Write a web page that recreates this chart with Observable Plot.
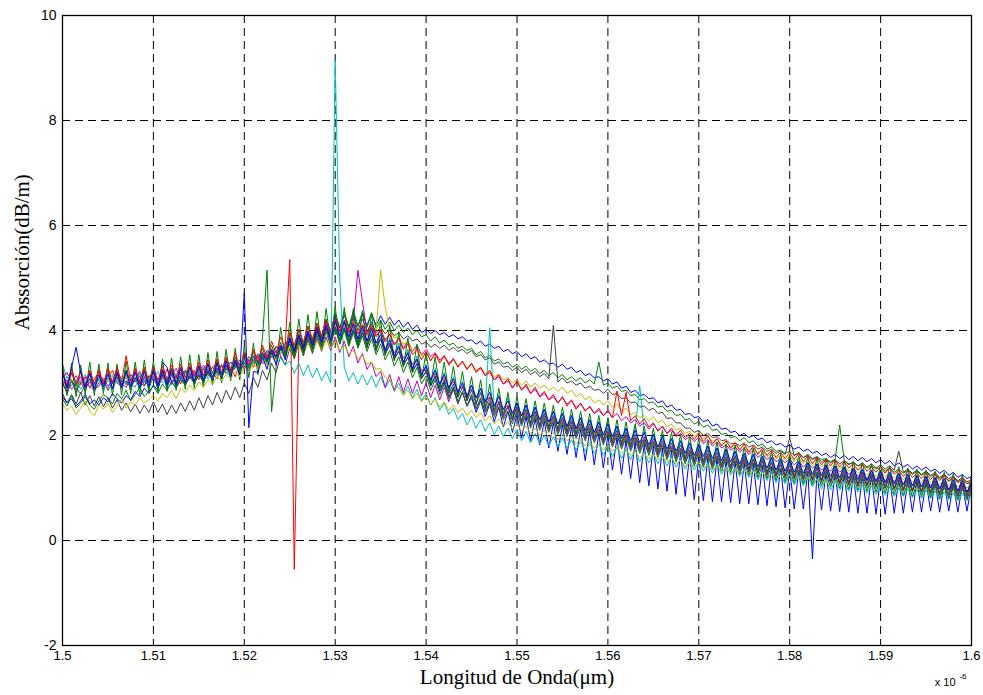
<!DOCTYPE html>
<html>
<head>
<meta charset="utf-8">
<script src="https://cdn.jsdelivr.net/npm/d3@7"></script>
<script src="https://cdn.jsdelivr.net/npm/@observablehq/plot@0.6"></script>
<style>
  html, body { margin: 0; padding: 0; background: #fff; }
  #chart { width: 983px; height: 695px; }
</style>
</head>
<body>
<div id="chart"></div>
<script>
// Sampling grid of the wavelength axis (µm, plotted as 1.5 … 1.6 with the "x 10-6" multiplier)
const wavelength = d3.range(201).map(i => +(1.5 + i * 0.0005).toFixed(4));

const xTicks = [1.5, 1.51, 1.52, 1.53, 1.54, 1.55, 1.56, 1.57, 1.58, 1.59, 1.6];
const xTickLabels = ["1.5", "1.51", "1.52", "1.53", "1.54", "1.55", "1.56", "1.57", "1.58", "1.59", "1.6"];
const yTicks = [-2, 0, 2, 4, 6, 8, 10];
const yTickLabels = ["-2", "0", "2", "4", "6", "8", "10"];

// Absorption (dB/m), one array per trace
const b1 = [3.02,2.80,3.05,2.82,3.04,2.85,3.08,2.86,3.10,2.88, 3.12,2.88,3.10,2.90,3.14,2.87,3.11,2.89,3.12,2.90, 3.13,2.90,3.15,2.92,3.16,2.95,3.18,2.96,3.20,2.98, 3.22,3.00,3.26,3.04,3.30,3.08,3.33,3.12,3.38,3.16, 3.42,3.22,3.50,3.28,3.56,3.36,3.64,3.42,3.72,3.50, 3.84,3.60,3.90,3.70,3.98,3.78,4.06,3.86,4.14,3.95, 4.28,4.05,4.30,4.06,4.32,4.08,4.30,4.10,4.32,4.10, 4.28,4.12,4.25,4.10,4.20,4.06,4.16,4.02,4.10,3.96, 4.02,3.94,4.00,3.92,3.96,3.88,3.92,3.84,3.88,3.80, 3.82,3.74,3.80,3.70,3.74,3.66,3.70,3.60,3.64,3.56, 3.60,3.50,3.56,3.46,3.50,3.40,3.44,3.36,3.38,3.30, 3.36,3.26,3.30,3.20,3.24,3.14,3.18,3.10,3.12,3.04, 3.08,2.98,3.02,2.90,2.94,2.82,2.86,2.76,2.78,2.70, 2.72,2.62,2.66,2.54,2.58,2.48,2.50,2.40,2.42,2.34, 2.36,2.26,2.30,2.18,2.22,2.12,2.14,2.06,2.08,2.00, 2.04,1.96,2.00,1.92,1.95,1.86,1.90,1.82,1.85,1.78, 1.82,1.74,1.78,1.70,1.74,1.66,1.70,1.62,1.66,1.58, 1.64,1.56,1.62,1.54,1.60,1.52,1.58,1.50,1.56,1.48, 1.54,1.46,1.52,1.42,1.48,1.40,1.45,1.36,1.42,1.34, 1.40,1.32,1.36,1.28,1.34,1.24,1.30,1.20,1.26,1.18, 1.22];
const g1 = [3.18,2.92,3.20,2.94,3.22,2.95,3.20,2.96,3.24,2.98, 3.24,2.98,3.26,2.96,3.25,2.98,3.27,2.98,3.26,3.00, 3.25,2.98,3.26,3.00,3.28,3.00,3.30,3.02,3.32,3.04, 3.34,3.08,3.38,3.10,3.42,3.14,3.46,3.18,3.50,3.22, 3.55,3.28,3.60,3.34,3.66,3.40,3.72,3.46,3.78,3.52, 3.96,3.66,4.02,3.74,4.08,3.82,4.14,3.88,4.22,3.94, 4.34,4.04,4.36,4.06,4.38,4.08,4.36,4.06,4.34,4.04, 4.20,4.02,4.16,4.00,4.10,3.96,4.05,3.92,4.00,3.88, 3.92,3.80,3.88,3.76,3.82,3.72,3.76,3.66,3.70,3.62, 3.66,3.54,3.60,3.48,3.52,3.42,3.46,3.36,3.40,3.30, 3.36,3.26,3.32,3.22,3.28,3.18,3.24,3.14,3.20,3.10, 3.16,3.06,3.12,3.04,3.10,3.00,3.06,2.98,3.40,2.96, 3.00,2.90,2.94,2.84,2.86,2.76,2.78,2.68,2.70,2.62, 2.64,2.54,2.56,2.46,2.48,2.38,2.40,2.30,2.32,2.22, 2.26,2.16,2.20,2.10,2.12,2.02,2.04,1.96,1.98,1.90, 1.96,1.86,1.90,1.80,1.84,1.74,1.78,1.70,1.72,1.66, 1.70,1.62,1.68,1.58,1.64,1.56,1.60,1.54,1.56,1.50, 1.55,2.20,1.52,1.46,1.48,1.42,1.45,1.38,1.42,1.36, 1.40,1.32,1.38,1.30,1.36,1.28,1.34,1.26,1.32,1.24, 1.30,1.22,1.26,1.18,1.24,1.14,1.20,1.12,1.16,1.08, 1.12];
const r1 = [3.05,2.95,3.18,3.02,2.96,3.12,2.90,3.08,3.20,2.98, 3.10,3.24,3.00,2.94,3.16,3.06,3.22,2.98,3.12,3.04, 3.18,2.96,3.08,3.26,3.02,3.14,2.98,3.20,3.10,3.24, 3.06,3.30,3.14,3.22,3.08,3.34,3.18,3.28,3.12,3.38, 3.26,3.44,3.30,3.52,3.36,3.46,3.60,3.42,3.66,3.70, 5.35,-0.55,3.80,3.72,3.94,3.78,4.02,3.84,4.06,3.88, 4.10,3.90,4.08,3.88,4.04,3.84,4.00,3.80,3.96,3.76, 3.84,3.66,3.76,3.58,3.66,3.48,3.54,3.36,3.42,3.24, 3.24,3.06,3.18,2.98,3.10,2.92,3.02,2.86,2.94,2.78, 2.88,2.72,2.82,2.64,2.74,2.58,2.66,2.50,2.58,2.44, 2.52,2.38,2.48,2.34,2.44,2.30,2.38,2.26,2.34,2.22, 2.30,2.16,2.26,2.12,2.22,2.08,2.16,2.04,2.12,2.00, 2.08,1.94,2.04,1.90,2.00,1.86,1.96,1.82,1.92,1.78, 1.88,1.74,1.84,1.70,1.80,1.66,1.74,1.62,1.70,1.58, 1.66,1.56,1.62,1.52,1.60,1.48,1.56,1.44,1.52,1.42, 1.52,1.40,1.48,1.36,1.44,1.32,1.40,1.28,1.36,1.26, 1.36,1.26,1.34,1.22,1.32,1.20,1.28,1.18,1.26,1.16, 1.26,1.14,1.24,1.12,1.20,1.10,1.18,1.08,1.16,1.06, 1.16,1.06,1.14,1.02,1.10,1.00,1.08,0.98,1.06,0.96, 1.06,0.96,1.04,0.92,1.00,0.90,0.98,0.88,0.96,0.86, 0.90];
const c2 = [3.35,3.10,3.05,2.88,3.02,3.16,2.92,2.86,3.08,3.00, 2.90,3.12,3.04,2.96,3.20,2.98,2.92,3.14,3.06,2.94, 3.10,3.22,3.00,3.08,2.96,3.18,3.12,2.98,3.24,3.06, 3.16,3.30,3.08,3.22,3.14,3.36,3.20,3.12,3.40,3.26, 3.32,3.46,3.38,3.54,3.44,3.60,3.50,3.68,3.58,3.72, 3.90,3.52,3.96,3.58,4.02,3.64,4.08,3.70,4.12,3.74, 4.14,3.76,4.12,3.74,4.10,3.72,4.06,3.68,4.02,3.64, 3.96,3.56,3.86,3.46,3.76,3.36,3.64,3.26,3.52,3.14, 3.36,2.98,3.28,2.92,3.20,2.84,3.12,2.76,3.04,2.70, 2.96,2.60,2.90,2.54,4.05,2.48,2.78,2.42,2.72,2.36, 2.62,2.24,2.58,2.20,2.54,2.16,2.50,2.12,2.46,2.08, 2.42,2.04,2.38,2.00,2.34,1.96,2.30,1.92,2.26,1.88, 2.22,1.84,2.18,1.80,2.14,1.76,2.10,2.95,2.06,1.70, 2.02,1.64,1.98,1.60,1.94,1.56,1.90,1.52,1.86,1.48, 1.82,1.44,1.78,1.40,1.76,1.38,1.72,1.34,1.70,1.32, 1.66,1.30,1.64,1.26,1.60,1.24,1.58,1.20,1.54,1.18, 1.52,1.16,1.50,1.14,1.48,1.12,1.46,1.10,1.44,1.08, 1.42,1.06,1.40,1.04,1.38,1.02,1.36,1.00,1.34,0.98, 1.32,0.96,1.30,0.94,1.28,0.92,1.26,0.90,1.24,0.88, 1.22,0.86,1.20,0.84,1.18,0.82,1.16,0.82,1.14,0.80, 1.12];
const m1 = [3.10,3.20,3.02,3.14,2.98,3.08,3.18,3.00,3.10,2.96, 3.12,3.04,3.20,3.08,2.98,3.16,3.06,3.22,3.02,3.12, 3.18,3.06,3.24,3.10,3.16,3.28,3.08,3.20,3.30,3.14, 3.24,3.34,3.18,3.30,3.38,3.22,3.36,3.28,3.42,3.32, 3.46,3.36,3.52,3.40,3.58,3.46,3.64,3.52,3.72,3.58, 3.84,3.60,3.90,3.68,3.98,3.76,4.06,3.84,4.14,3.92, 4.22,3.98,4.20,3.96,4.18,5.15,4.55,3.96,4.12,3.92, 3.98,3.78,3.92,3.72,3.86,3.66,3.80,3.60,3.72,3.54, 3.64,3.50,3.58,3.44,3.52,3.38,3.46,3.32,3.40,3.26, 3.36,3.22,3.28,3.14,3.20,3.06,3.12,2.98,3.04,2.92, 3.02,2.88,2.94,2.80,2.88,2.74,2.80,2.68,2.74,2.62, 2.72,2.60,2.66,2.54,2.60,2.48,2.54,2.42,2.48,2.38, 2.46,2.34,2.42,2.28,2.36,2.24,2.30,2.18,2.24,2.12, 2.22,2.10,2.16,2.04,2.10,1.98,2.04,1.92,1.98,1.88, 1.96,1.84,1.92,1.80,1.88,1.76,1.82,1.72,1.78,1.68, 1.76,1.64,1.72,1.58,1.66,1.54,1.62,1.50,1.56,1.48, 1.56,1.44,1.52,1.40,1.48,1.38,1.44,1.34,1.40,1.32, 1.42,1.30,1.38,1.26,1.34,1.22,1.30,1.18,1.26,1.16, 1.26,1.14,1.22,1.12,1.20,1.08,1.18,1.06,1.16,1.04, 1.16,1.04,1.14,1.02,1.10,0.98,1.08,0.96,1.06,0.94, 1.00];
const y1 = [3.06,2.84,3.08,2.86,3.05,2.88,3.10,2.88,3.10,2.90, 3.12,2.90,3.10,2.92,3.14,2.90,3.12,2.94,3.16,2.94, 3.16,2.94,3.18,2.96,3.20,2.98,3.22,3.00,3.24,3.02, 3.26,3.06,3.30,3.08,3.32,3.12,3.36,3.14,3.40,3.18, 3.42,3.22,3.48,3.28,3.56,3.34,3.62,3.42,3.70,3.50, 3.78,3.56,3.86,3.64,3.92,3.72,3.98,3.80,4.06,3.86, 4.12,3.90,4.10,3.92,4.12,3.90,4.08,3.88,4.06,4.00, 5.15,4.45,4.00,3.86,3.88,3.74,3.78,3.62,3.66,3.52, 3.58,3.44,3.54,3.40,3.50,3.36,3.44,3.32,3.40,3.28, 3.36,3.24,3.30,3.18,3.24,3.12,3.16,3.06,3.10,3.00, 3.06,2.96,3.04,2.92,3.00,2.90,2.96,2.86,2.92,2.84, 2.92,2.80,2.86,2.74,2.80,2.68,2.74,2.62,2.68,2.58, 2.66,2.54,2.60,2.46,2.52,2.40,2.44,2.34,2.38,2.28, 2.36,2.24,2.30,2.16,2.22,2.10,2.14,2.04,2.08,1.98, 2.06,1.94,2.00,1.88,1.94,1.82,1.88,1.78,1.82,1.74, 1.82,1.70,1.76,1.66,1.72,1.60,1.66,1.56,1.62,1.52, 1.62,1.50,1.58,1.46,1.54,1.42,1.50,1.40,1.46,1.38, 1.46,1.36,1.42,1.32,1.38,1.28,1.34,1.24,1.30,1.22, 1.32,1.22,1.28,1.18,1.26,1.16,1.22,1.12,1.20,1.10, 1.22,1.10,1.18,1.06,1.16,1.04,1.12,1.02,1.10,1.00, 1.06];
const k1 = [2.80,2.62,2.78,2.60,2.82,2.58,2.76,2.56,2.74,2.55, 2.72,2.52,2.68,2.48,2.62,2.45,2.60,2.42,2.58,2.44, 2.64,2.44,2.60,2.40,2.58,2.42,2.62,2.46,2.66,2.48, 2.72,2.52,2.76,2.58,2.82,2.62,2.86,2.68,2.92,2.72, 3.00,2.80,3.10,2.92,3.24,3.06,3.38,3.20,3.52,3.34, 3.66,3.48,3.80,3.60,3.94,3.74,4.08,3.88,4.20,4.00, 4.28,4.05,4.30,4.02,4.25,4.00,4.22,3.98,4.16,3.96, 4.06,3.94,4.02,3.90,3.96,3.84,3.90,3.80,3.84,3.74, 3.78,3.68,3.74,3.66,3.72,3.62,3.68,3.60,3.64,3.56, 3.62,3.50,3.54,3.44,3.48,3.36,3.40,3.30,3.32,3.24, 3.30,3.20,3.26,3.16,3.22,3.12,3.18,3.08,4.10,3.02, 3.10,3.00,3.04,2.96,3.00,2.90,2.94,2.86,2.88,2.80, 2.88,2.78,2.80,2.70,2.72,2.62,2.64,2.54,2.56,2.48, 2.52,2.42,2.44,2.32,2.34,2.24,2.24,2.14,2.14,2.06, 2.10,2.00,2.04,1.96,1.98,1.90,1.92,1.84,1.86,1.80, 1.86,1.78,1.82,1.74,1.78,1.70,1.74,1.66,1.70,1.64, 1.95,1.62,1.66,1.58,1.62,1.54,1.58,1.50,1.54,1.48, 1.54,1.46,1.52,1.44,1.50,1.42,1.48,1.40,1.46,1.38, 1.44,1.36,1.42,1.34,1.70,1.30,1.36,1.28,1.34,1.26, 1.32,1.24,1.30,1.20,1.26,1.18,1.22,1.14,1.20,1.12, 1.15];
const b2 = [2.74,2.62,2.70,2.56,2.66,2.78,2.60,2.68,2.58,2.72, 2.64,2.80,2.70,2.62,2.76,2.68,2.84,2.74,2.90,2.80, 2.96,2.86,3.40,3.30,3.02,2.92,3.08,2.98,3.14,3.04, 3.16,3.08,3.22,3.12,3.28,3.18,3.34,3.22,3.38,3.28, 3.44,3.32,3.50,3.38,3.56,3.44,3.62,3.50,3.70,3.58, 3.82,3.60,3.88,3.66,3.94,3.72,3.98,3.78,4.04,3.82, 4.06,3.84,4.04,3.82,4.00,3.78,3.96,3.74,3.92,3.68, 3.84,3.58,3.72,3.48,3.60,3.36,3.48,3.24,3.36,3.10, 3.22,2.94,3.12,2.84,3.02,2.74,2.92,2.64,2.82,2.56, 2.72,2.44,2.66,2.36,2.60,2.26,2.54,2.16,2.46,2.06, 2.40,1.95,2.36,1.90,2.32,1.82,2.28,1.76,2.24,1.70, 2.20,1.64,2.16,1.58,2.12,1.52,2.08,1.44,2.04,1.38, 2.00,1.34,1.96,1.26,1.92,1.18,1.88,1.10,1.84,1.04, 1.80,0.98,1.76,0.94,1.72,0.88,1.68,0.84,1.64,0.78, 1.60,0.76,1.58,0.74,1.56,0.74,1.52,0.72,1.50,0.70, 1.48,0.70,1.46,0.68,1.42,0.66,1.40,0.64,1.38,0.62, 1.35,0.60,1.34,0.60,1.32,-0.35,1.30,0.58,1.30,0.56, 1.28,0.55,1.26,0.54,1.24,0.52,1.22,0.52,1.22,0.50, 1.20,0.50,1.18,0.52,1.16,0.52,1.14,0.54,1.14,0.54, 1.12,0.56,1.10,0.54,1.10,0.56,1.08,0.54,1.06,0.56, 1.05];
const g2 = [3.36,2.76,3.38,2.74,3.34,2.78,3.40,2.76,3.36,2.80, 3.38,2.76,3.36,2.78,3.42,2.80,3.40,2.78,3.44,2.82, 3.42,2.82,3.46,2.84,3.48,2.86,3.50,2.88,3.54,2.90, 3.54,2.92,3.58,2.96,3.60,3.00,3.64,3.04,3.66,3.06, 3.70,3.10,3.76,3.16,3.86,5.15,2.45,3.30,4.06,3.48, 4.16,3.52,4.22,3.58,4.30,3.66,4.36,3.72,4.42,3.76, 4.46,3.74,4.44,3.72,4.42,3.70,4.38,3.66,4.32,3.60, 4.20,3.52,4.10,3.42,3.98,3.30,3.86,3.20,3.74,3.08, 3.58,2.98,3.50,2.90,3.40,2.82,3.32,2.74,3.22,2.66, 3.12,2.58,3.06,2.50,2.98,2.44,2.90,2.36,2.82,2.30, 2.74,2.26,2.70,2.22,2.66,2.18,2.62,2.14,2.58,2.10, 2.54,2.06,2.50,2.02,2.46,1.98,2.42,1.94,2.38,1.90, 2.34,1.86,2.30,1.82,2.26,1.78,2.22,1.74,2.18,1.70, 2.14,1.66,2.10,1.62,2.06,1.58,2.02,1.54,1.98,1.50, 1.94,1.48,1.90,1.44,1.88,1.42,1.84,1.38,1.82,1.36, 1.78,1.34,1.76,1.30,1.72,1.28,1.70,1.24,1.66,1.22, 1.64,1.20,1.62,1.18,1.60,1.16,1.58,1.14,1.56,1.12, 1.54,1.10,1.52,1.08,1.50,1.06,1.48,1.04,1.46,1.02, 1.44,1.00,1.42,0.98,1.40,0.96,1.38,0.94,1.36,0.92, 1.34,0.90,1.32,0.88,1.30,0.86,1.28,0.86,1.26,0.84, 1.24];
const r2 = [3.24,2.96,3.26,2.98,3.22,2.96,3.24,2.98,3.26,2.98, 3.28,3.00,3.30,3.02,3.52,3.04,3.28,3.04,3.30,3.04, 3.30,3.04,3.32,3.06,3.34,3.08,3.36,3.10,3.38,3.12, 3.40,3.14,3.44,3.18,3.46,3.20,3.50,3.24,3.58,3.26, 3.58,3.34,3.64,3.40,3.72,3.48,3.80,3.56,3.88,3.64, 3.96,3.72,4.02,3.78,4.08,3.84,4.14,3.90,4.18,3.94, 4.20,3.98,4.18,3.96,4.16,3.94,4.12,3.92,4.08,3.88, 4.02,3.82,3.94,3.74,3.84,3.64,3.74,3.54,3.64,3.44, 3.60,3.42,3.56,3.38,3.52,3.34,3.46,3.30,3.42,3.26, 3.38,3.20,3.30,3.14,3.24,3.06,3.16,2.98,3.08,2.90, 3.04,2.86,2.98,2.80,2.92,2.74,2.84,2.68,2.78,2.62, 2.74,2.56,2.68,2.50,2.62,2.46,2.56,2.42,2.52,2.38, 2.48,2.34,2.85,2.38,2.82,2.28,2.38,2.22,2.32,2.16, 2.24,2.08,2.18,2.04,2.14,2.00,2.10,1.96,2.04,1.92, 2.04,1.88,2.00,1.84,1.94,1.80,1.90,1.76,1.86,1.72, 1.84,1.68,1.80,1.64,1.76,1.62,1.72,1.58,1.68,1.56, 1.68,1.54,1.66,1.50,1.62,1.46,1.58,1.44,1.54,1.42, 1.54,1.40,1.50,1.38,1.46,1.34,1.44,1.32,1.40,1.30, 1.40,1.28,1.38,1.26,1.34,1.22,1.32,1.20,1.28,1.18, 1.28,1.16,1.26,1.14,1.24,1.12,1.20,1.10,1.18,1.08, 1.12];
const c1 = [3.00,3.12,2.94,3.06,2.88,3.02,3.14,2.96,3.08,2.92, 3.04,3.16,3.00,3.10,2.96,3.12,3.04,3.18,3.00,3.08, 3.14,3.02,3.20,3.08,3.00,3.16,3.06,3.22,3.10,3.18, 3.24,3.12,3.28,3.18,3.34,3.20,3.30,3.40,3.26,3.36, 3.44,3.30,3.50,3.36,3.46,3.40,3.52,3.38,3.48,3.34, 3.42,3.18,3.38,3.14,3.34,3.10,3.28,3.04,3.22,3.00, 9.15,5.00,3.30,3.04,3.20,2.98,3.16,2.96,3.14,2.92, 3.12,2.90,3.06,2.84,3.00,2.78,2.94,2.72,2.88,2.66, 2.80,2.58,2.72,2.48,2.62,2.40,2.52,2.30,2.42,2.20, 2.36,2.14,2.30,2.08,2.24,2.02,2.18,1.98,2.14,1.94, 2.12,1.90,2.08,1.86,2.04,1.84,2.00,1.80,1.98,1.78, 1.96,1.76,1.92,1.72,1.90,1.70,1.86,1.66,1.84,1.62, 1.80,1.60,1.78,1.56,1.74,1.54,1.72,1.50,1.68,1.48, 1.66,1.46,1.62,1.42,1.60,1.40,1.56,1.36,1.54,1.34, 1.50,1.32,1.48,1.28,1.46,1.26,1.42,1.24,1.40,1.22, 1.38,1.20,1.36,1.16,1.32,1.14,1.30,1.10,1.26,1.08, 1.26,1.06,1.24,1.04,1.22,1.02,1.18,0.98,1.16,0.96, 1.14,0.96,1.12,0.94,1.10,0.92,1.06,0.90,1.04,0.88, 1.04,0.86,1.02,0.84,1.00,0.84,0.98,0.82,0.96,0.80, 0.96,0.80,0.94,0.78,0.92,0.78,0.90,0.76,0.90,0.76, 0.88];
const m2 = [2.96,3.06,2.88,2.98,3.12,2.90,3.02,2.86,3.00,3.10, 2.94,3.04,3.16,2.98,2.92,3.08,3.02,3.14,2.96,3.06, 3.12,3.00,3.18,3.06,2.98,3.14,3.20,3.04,3.10,3.22, 3.12,3.26,3.16,3.08,3.28,3.20,3.34,3.18,3.30,3.38, 3.28,3.44,3.36,3.50,3.40,3.56,3.48,3.62,3.54,3.68, 3.74,3.48,3.78,3.52,3.82,3.56,3.86,3.60,3.88,3.62, 3.88,3.58,3.80,3.50,3.70,3.38,3.56,3.26,3.40,3.12, 3.22,2.92,3.16,2.86,3.12,2.82,3.08,2.80,3.04,2.76, 3.00,2.72,2.96,2.68,2.92,2.64,2.88,2.60,2.84,2.56, 2.78,2.52,2.72,2.46,2.66,2.40,2.60,2.34,2.54,2.28, 2.48,2.22,2.44,2.18,2.40,2.14,2.36,2.10,2.32,2.06, 2.28,2.02,2.24,1.98,2.20,1.94,2.16,1.90,2.12,1.86, 2.08,1.82,2.04,1.78,2.00,1.74,1.96,1.70,1.92,1.66, 1.88,1.62,1.84,1.58,1.80,1.54,1.76,1.50,1.72,1.46, 1.68,1.44,1.66,1.40,1.62,1.38,1.60,1.36,1.58,1.32, 1.56,1.30,1.54,1.28,1.50,1.24,1.48,1.22,1.44,1.20, 1.42,1.18,1.40,1.16,1.38,1.14,1.36,1.12,1.34,1.10, 1.32,1.08,1.30,1.06,1.28,1.04,1.26,1.04,1.24,1.02, 1.24,1.00,1.22,0.98,1.20,0.96,1.18,0.94,1.16,0.92, 1.14,0.90,1.12,0.88,1.10,0.86,1.08,0.84,1.06,0.82, 1.04];
const y2 = [2.60,2.48,2.56,2.40,2.52,2.66,2.46,2.38,2.58,2.50, 2.62,2.44,2.56,2.70,2.52,2.64,2.58,2.72,2.62,2.68, 2.76,2.66,2.80,2.72,2.86,2.70,2.90,2.82,2.96,2.86, 3.02,2.92,3.06,2.98,3.12,3.04,3.16,3.08,3.22,3.12, 3.30,3.20,3.38,3.26,3.46,3.34,3.52,3.42,3.58,3.48, 3.68,3.52,3.72,3.56,3.76,3.60,3.80,3.62,3.82,3.66, 3.80,3.62,3.72,3.56,3.62,3.46,3.52,3.36,3.40,3.26, 3.28,3.10,3.08,2.90,2.92,2.76,2.86,2.70,2.80,2.64, 2.74,2.58,2.70,2.54,2.64,2.48,2.58,2.44,2.52,2.38, 2.48,2.34,2.44,2.28,2.38,2.22,2.32,2.18,2.26,2.12, 2.22,2.08,2.18,2.04,2.14,2.00,2.10,1.96,2.06,1.92, 2.02,1.90,1.98,1.84,1.94,1.80,1.88,1.76,1.84,1.72, 1.82,1.70,1.78,1.66,1.74,1.62,1.70,1.58,1.66,1.56, 1.64,1.54,1.60,1.50,1.56,1.46,1.52,1.42,1.48,1.40, 1.48,1.38,1.44,1.34,1.42,1.32,1.38,1.28,1.36,1.26, 1.34,1.26,1.32,1.22,1.30,1.20,1.26,1.18,1.24,1.16, 1.24,1.16,1.22,1.12,1.20,1.10,1.16,1.08,1.14,1.06, 1.14,1.06,1.12,1.04,1.10,1.02,1.08,1.00,1.06,0.98, 1.06,0.98,1.04,0.96,1.02,0.94,1.00,0.94,0.98,0.92, 0.98,0.92,0.96,0.90,0.96,0.90,0.94,0.88,0.94,0.88, 0.92];
const k2 = [2.98,2.84,3.04,2.90,2.80,2.96,3.08,2.88,2.94,3.06, 2.86,3.00,3.12,2.96,3.04,2.92,3.10,3.02,2.94,3.14, 3.06,2.98,3.16,3.04,3.20,3.00,3.12,3.24,3.08,3.18, 3.26,3.14,3.22,3.30,3.18,3.34,3.24,3.40,3.30,3.44, 3.36,3.50,3.42,3.56,3.48,3.62,3.54,3.70,3.62,3.76, 3.80,3.52,3.86,3.58,3.92,3.64,3.98,3.70,4.04,3.76, 4.06,3.76,4.04,3.74,4.00,3.70,3.96,3.68,3.92,3.62, 3.84,3.54,3.74,3.44,3.62,3.32,3.50,3.20,3.38,3.08, 3.22,2.96,3.14,2.88,3.06,2.80,2.98,2.72,2.92,2.66, 2.86,2.62,2.80,2.54,2.72,2.46,2.64,2.40,2.56,2.32, 2.54,2.28,2.50,2.24,2.46,2.20,2.42,2.16,2.38,2.12, 2.34,2.08,2.30,2.04,2.26,2.00,2.22,1.96,2.18,1.92, 2.14,1.88,2.10,1.84,2.06,1.80,2.02,1.76,1.98,1.72, 1.94,1.68,1.90,1.64,1.86,1.60,1.82,1.56,1.78,1.52, 1.74,1.50,1.72,1.46,1.68,1.42,1.66,1.40,1.62,1.36, 1.60,1.34,1.56,1.30,1.54,1.28,1.50,1.24,1.48,1.22, 1.46,1.20,1.44,1.18,1.42,1.16,1.40,1.14,1.38,1.12, 1.36,1.10,1.34,1.08,1.32,1.06,1.30,1.04,1.28,1.02, 1.26,1.00,1.24,0.98,1.22,0.96,1.20,0.94,1.18,0.92, 1.16,0.90,1.14,0.88,1.12,0.88,1.10,0.86,1.10,0.86, 1.08];
const b3 = [3.20,2.90,3.30,3.68,3.20,2.92,3.18,2.90,3.16,2.92, 3.18,2.90,3.20,2.92,3.22,2.94,3.20,2.92,3.22,2.94, 3.24,2.94,3.24,2.96,3.26,2.98,3.28,3.00,3.30,3.02, 3.32,3.04,3.36,3.06,3.38,3.10,3.42,3.12,3.44,3.16, 4.72,2.15,3.22,3.20,3.50,3.26,3.60,3.34,3.70,3.44, 3.86,3.60,3.92,3.66,3.98,3.72,4.04,3.78,4.10,3.82, 4.18,3.90,4.16,3.88,4.12,3.84,4.08,3.80,4.04,3.76, 3.92,3.62,3.82,3.52,3.70,3.40,3.58,3.28,3.46,3.16, 3.32,3.06,3.24,2.98,3.16,2.90,3.08,2.82,3.00,2.74, 2.96,2.72,2.90,2.64,2.82,2.56,2.74,2.50,2.66,2.42, 2.62,2.38,2.58,2.34,2.54,2.30,2.50,2.26,2.46,2.22, 2.42,2.18,2.38,2.14,2.34,2.10,2.30,2.06,2.26,2.02, 2.22,1.98,2.18,1.94,2.14,1.90,2.10,1.86,2.06,1.82, 2.02,1.78,1.98,1.74,1.94,1.70,1.90,1.66,1.86,1.62, 1.82,1.60,1.80,1.56,1.76,1.52,1.74,1.50,1.70,1.46, 1.66,1.44,1.64,1.40,1.60,1.38,1.58,1.34,1.54,1.32, 1.52,1.30,1.50,1.28,1.48,1.26,1.46,1.24,1.44,1.22, 1.42,1.20,1.40,1.18,1.38,1.16,1.36,1.14,1.34,1.12, 1.32,1.10,1.30,1.08,1.28,1.06,1.26,1.04,1.24,1.02, 1.22,1.00,1.20,0.98,1.18,0.96,1.16,0.94,1.14,0.92, 1.10];
const g3 = [2.70,2.56,2.76,2.52,2.62,2.74,2.58,2.50,2.66,2.78, 2.72,2.60,2.80,2.70,2.86,2.66,2.78,2.92,2.74,2.84, 2.94,2.80,2.98,2.86,3.02,2.90,3.06,2.96,3.10,3.00, 3.14,3.02,3.20,3.08,3.24,3.12,3.28,3.18,3.34,3.22, 3.38,3.28,3.44,3.34,3.52,3.40,3.58,3.48,3.64,3.54, 3.74,3.46,3.80,3.52,3.86,3.58,3.92,3.64,3.98,3.70, 4.04,3.74,4.00,3.70,3.96,3.66,3.90,3.60,3.84,3.54, 3.74,3.44,3.62,3.32,3.50,3.20,3.40,3.10,3.30,2.98, 3.14,2.86,3.06,2.78,2.98,2.70,2.90,2.62,2.82,2.56, 2.76,2.50,2.70,2.44,2.62,2.36,2.54,2.30,2.46,2.22, 2.44,2.18,2.40,2.14,2.36,2.10,2.32,2.06,2.28,2.02, 2.24,1.98,2.20,1.94,2.16,1.90,2.12,1.86,2.08,1.82, 2.04,1.78,2.00,1.74,1.96,1.70,1.92,1.66,1.88,1.62, 1.84,1.58,1.80,1.54,1.76,1.50,1.72,1.46,1.68,1.42, 1.64,1.40,1.62,1.36,1.58,1.32,1.56,1.30,1.52,1.26, 1.50,1.24,1.48,1.20,1.44,1.18,1.42,1.14,1.38,1.12, 1.36,1.10,1.34,1.08,1.32,1.06,1.30,1.04,1.28,1.02, 1.26,1.00,1.24,0.98,1.22,0.96,1.20,0.94,1.18,0.92, 1.16,0.90,1.14,0.88,1.12,0.86,1.10,0.84,1.08,0.84, 1.08,0.82,1.06,0.80,1.04,0.80,1.02,0.78,1.00,0.78, 1.00];

const traceNames = ["b1", "g1", "r1", "c2", "m1", "y1", "k1", "b2", "g2", "r2", "c1", "m2", "y2", "k2", "b3", "g3"];
const traceValues = [b1, g1, r1, c2, m1, y1, k1, b2, g2, r2, c1, m2, y2, k2, b3, g3];
const traceColors = ["#0000ff", "#008000", "#ff0000", "#00bfbf", "#bf00bf", "#bfbf00", "#404040",
                     "#0000ff", "#008000", "#ff0000", "#00bfbf", "#bf00bf", "#bfbf00", "#404040",
                     "#0000ff", "#008000"];

const rows = traceNames.flatMap((name, k) =>
  traceValues[k].map((v, i) => ({trace: name, wl: wavelength[i], a: v})));

const serif = "'Liberation Serif', 'Times New Roman', serif";

const chart = Plot.plot({
  width: 983,
  height: 695,
  marginLeft: 62,
  marginRight: 12,
  marginTop: 15,
  marginBottom: 50,
  style: {background: "#fff", fontFamily: "'Liberation Sans', Arial, sans-serif", fontSize: "13px", color: "#000"},
  x: {domain: [1.5, 1.6]},
  y: {domain: [-2, 10]},
  color: {domain: traceNames, range: traceColors},
  marks: [
    Plot.gridX(xTicks.slice(1, -1), {stroke: "#000", strokeOpacity: 1, strokeWidth: 1, strokeDasharray: "8,5"}),
    Plot.gridY(yTicks.slice(1, -1), {stroke: "#000", strokeOpacity: 1, strokeWidth: 1, strokeDasharray: "8,5"}),
    Plot.line(rows, {x: "wl", y: "a", z: "trace", stroke: "trace", strokeWidth: 1, curve: "linear"}),
    Plot.frame({stroke: "#000", strokeWidth: 1.3}),
    Plot.axisX(xTicks, {tickSize: 0, tickPadding: 5, label: null,
      tickFormat: d => xTickLabels[xTicks.indexOf(d)], fontSize: 13}),
    Plot.axisY(yTicks, {tickSize: 0, tickPadding: 6, label: null,
      tickFormat: d => yTickLabels[yTicks.indexOf(d)], fontSize: 14}),
    Plot.text(["Longitud de Onda(\u03bcm)"], {frameAnchor: "bottom", dy: 38, fontFamily: serif, fontSize: 21, fill: "#000"}),
    Plot.text(["Abssorci\u00f3n(dB/m)"], {frameAnchor: "left", dx: -40, rotate: -90, fontFamily: serif, fontSize: 21, fill: "#000"}),
    Plot.text(["x 10"], {frameAnchor: "bottom-right", dx: -16, dy: 40, textAnchor: "end", fontSize: 11, fill: "#000"}),
    Plot.text(["-6"], {frameAnchor: "bottom-right", dx: -5, dy: 33, textAnchor: "end", fontSize: 8, fill: "#000"})
  ]
});

document.getElementById("chart").appendChild(chart);
</script>
</body>
</html>
